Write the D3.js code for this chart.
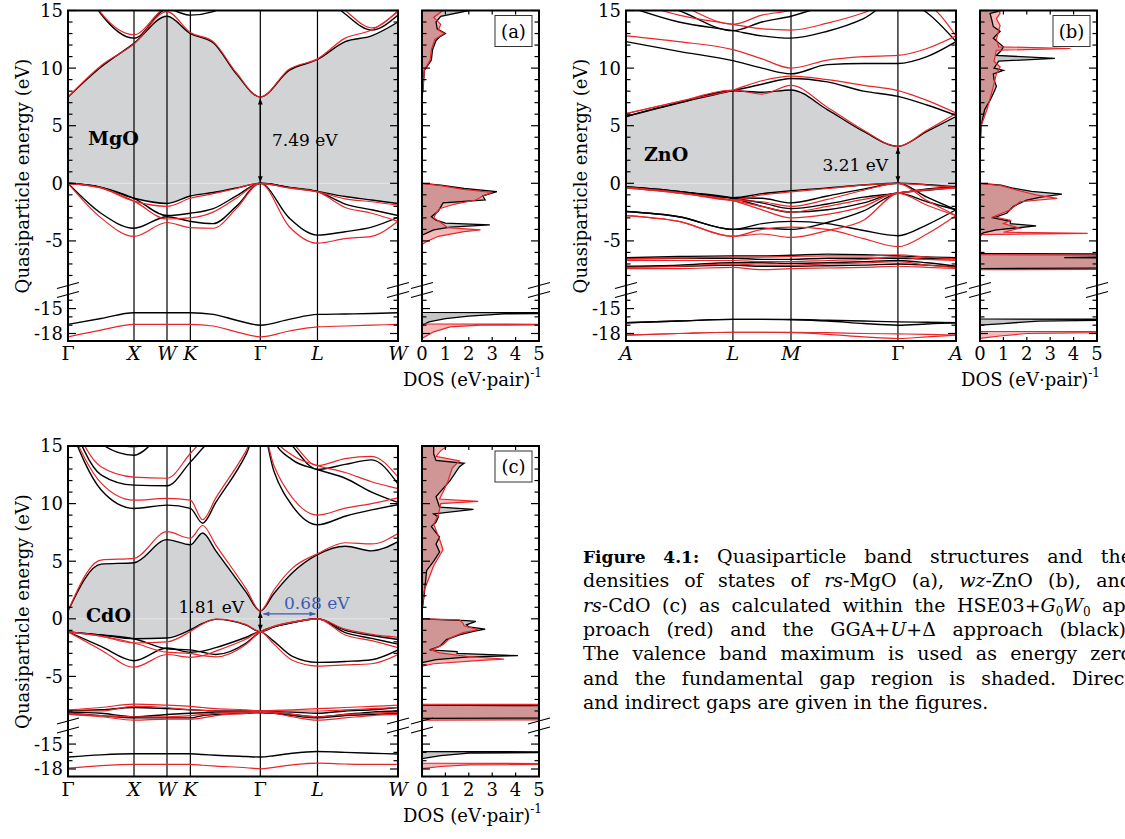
<!DOCTYPE html>
<html>
<head>
<meta charset="utf-8">
<script src="https://cdn.jsdelivr.net/npm/d3@7/dist/d3.min.js"></script>
<style>
  body { margin: 0; background: #fff; }
  svg { display: block; font-family: 'DejaVu Serif', serif; }
</style>
</head>
<body>
<svg id="figure" width="1125" height="839"></svg>
<script>
// ---------- k paths (path length, the frame spans 0..5) ----------
const fccPoints = [0, 1, 1.5, 1.854, 2.914, 3.78, 5];
const fccLabels = ['Γ', 'X', 'W', 'K', 'Γ', 'L', 'W'];
const wzPoints = [0, 1.62, 2.5, 4.12, 5];
const wzLabels = ['A', 'L', 'M', 'Γ', 'A'];

// k samples at which the band energies were read
const mgoK = [0, 0.5, 1, 1.5, 1.854, 2.2, 2.55, 2.914, 3.35, 3.78, 4.2, 4.6, 5];
const znoK = [0, 0.8, 1.62, 2.06, 2.5, 3.05, 3.6, 4.12, 4.56, 5];
const cdoK = [0, 0.5, 1, 1.5, 1.854, 2.04, 2.24, 2.7, 2.914, 3.12, 3.4, 3.78, 4.2, 4.6, 5];

// ---------- MgO bands (eV), black = GGA+U+Delta, red = HSE03+G0W0 ----------
const mgoBlack = [
  [7.49, 10.1, 12.15, 14.5, 13.0, 12.2, 9.5, 7.49, 9.8, 10.75, 12.3, 12.8, 14.0],
  [20, 14.7, 12.6, 15.1, 14.6, 14.9, 17, 20, 20, 17, 14.7, 13.3, 14.6],
  [0, -0.35, -1.3, -1.75, -1.1, -0.8, -0.4, 0, -0.35, -0.7, -1.15, -1.45, -1.75],
  [0, -0.35, -1.3, -2.8, -2.6, -2.2, -1.1, 0, -0.35, -0.7, -1.8, -2.3, -2.8],
  [0, -2.6, -3.9, -2.9, -3.3, -3.5, -2.0, 0, -3.0, -4.5, -4.2, -3.8, -2.95],
  [-16.9, -16.2, -15.5, -15.5, -15.5, -15.7, -16.4, -17.0, -16.3, -15.7, -15.65, -15.6, -15.5]
];
const mgoRed = [
  [7.49, 10.2, 12.1, 14.9, 13.1, 12.3, 9.6, 7.49, 9.9, 10.8, 12.6, 13.3, 14.9],
  [20, 14.8, 12.9, 15.3, 15.5, 16, 18, 20, 20, 17, 15.0, 13.5, 15.0],
  [0, -0.4, -1.55, -2.0, -1.3, -0.9, -0.45, 0, -0.4, -0.75, -1.35, -1.6, -1.9],
  [0, -0.4, -1.55, -3.1, -3.0, -2.5, -1.3, 0, -0.4, -0.75, -2.1, -2.6, -3.3],
  [0, -3.0, -4.6, -3.4, -3.85, -3.9, -2.2, 0, -3.75, -5.2, -4.8, -4.6, -3.3],
  [-18.4, -17.6, -16.9, -16.9, -16.9, -17.1, -17.8, -18.4, -17.7, -17.2, -17.1, -17.0, -16.9]
];

// ---------- ZnO bands ----------
const znoBlack = [
  [5.8, 6.97, 8.04, 7.9, 8.1, 6.4, 4.5, 3.21, 4.5, 5.8],
  [5.8, 7.0, 8.04, 8.6, 9.1, 8.8, 8.0, 7.55, 6.8, 5.9],
  [12.3, 11.45, 10.65, 10.0, 9.5, 10.3, 10.4, 10.4, 11.0, 12.3],
  [15.4, 14.0, 13.25, 12.8, 12.6, 13.2, 14.3, 16, 14.8, 12.3],
  [16.5, 15.0, 13.25, 14.0, 14.5, 15.5, 16.5, 17, 17, 16],
  [-0.3, -0.7, -1.25, -0.9, -0.65, -0.4, -0.15, 0, -0.12, -0.3],
  [-0.3, -0.7, -1.25, -1.3, -1.7, -1.1, -0.5, 0, -1.2, -2.3],
  [-0.35, -0.75, -1.3, -1.7, -2.2, -1.8, -1.2, -0.85, -0.5, -0.3],
  [-0.35, -0.75, -1.3, -2.0, -2.5, -2.3, -1.7, -0.85, -1.6, -2.3],
  [-2.45, -2.9, -4.0, -3.5, -3.3, -3.5, -4.1, -4.55, -3.6, -2.3],
  [-2.45, -2.9, -4.0, -3.9, -4.0, -3.4, -2.4, -0.85, -0.6, -0.35],
  [-6.45, -6.35, -6.3, -6.3, -6.25, -6.15, -6.2, -6.3, -6.4, -6.45],
  [-6.55, -6.5, -6.5, -6.6, -6.6, -6.5, -6.5, -6.5, -6.55, -6.55],
  [-7.2, -7.1, -6.9, -6.9, -6.95, -6.9, -6.8, -6.7, -6.9, -7.2],
  [-7.25, -7.2, -7.1, -7.2, -7.2, -7.15, -7.1, -7.0, -7.1, -7.25],
  [-16.7, -16.5, -16.3, -16.3, -16.3, -16.4, -16.5, -16.6, -16.65, -16.7],
  [-16.7, -16.5, -16.3, -16.3, -16.35, -16.5, -16.8, -17.0, -16.85, -16.7]
];
const znoRed = [
  [6.05, 7.1, 8.1, 7.75, 8.5, 6.6, 4.6, 3.21, 4.6, 6.05],
  [6.05, 7.1, 8.1, 8.9, 9.3, 9.0, 8.5, 8.05, 7.2, 6.1],
  [12.8, 12.3, 11.6, 10.8, 10.0, 10.7, 11.0, 11.1, 11.7, 12.8],
  [16, 14.6, 13.8, 13.4, 13.3, 13.9, 14.8, 16, 15.5, 12.8],
  [17, 15.5, 13.8, 14.6, 15.0, 16, 17, 17, 17, 17],
  [-0.35, -0.8, -1.45, -1.0, -0.75, -0.45, -0.15, 0, -0.15, -0.35],
  [-0.35, -0.8, -1.45, -1.6, -2.0, -1.4, -0.6, 0, -1.5, -2.8],
  [-0.4, -0.85, -1.5, -2.0, -2.5, -2.0, -1.4, -0.85, -0.55, -0.4],
  [-0.4, -0.85, -1.5, -2.3, -3.0, -2.7, -2.0, -0.85, -1.9, -2.8],
  [-2.8, -3.3, -4.6, -4.0, -3.8, -4.0, -4.8, -5.5, -4.4, -2.8],
  [-2.8, -3.3, -4.6, -4.4, -4.7, -4.1, -3.2, -0.85, -0.6, -0.4],
  [-6.55, -6.5, -6.4, -6.4, -6.35, -6.3, -6.3, -6.2, -6.4, -6.55],
  [-6.7, -6.7, -6.7, -6.8, -6.8, -6.7, -6.6, -6.4, -6.6, -6.7],
  [-7.3, -7.2, -7.0, -7.1, -7.1, -7.0, -6.9, -6.8, -7.1, -7.3],
  [-7.4, -7.4, -7.3, -7.5, -7.4, -7.35, -7.3, -7.2, -7.3, -7.4],
  [-18.2, -18.0, -17.85, -17.85, -17.85, -17.9, -18.0, -18.05, -18.1, -18.2],
  [-18.2, -18.0, -17.85, -17.85, -17.9, -18.1, -18.4, -18.6, -18.4, -18.2]
];

// ---------- CdO bands ----------
const cdoBlack = [
  [0.68, 4.75, 4.87, 6.87, 6.43, 7.45, 5.9, 2.3, 0.68, 2.2, 4.0, 5.57, 6.3, 5.9, 6.7],
  [17, 11.2, 9.58, 9.87, 9.58, 8.3, 10.1, 14.3, 17, 12.8, 9.8, 8.16, 8.9, 9.45, 9.9],
  [18, 12.5, 11.6, 11.55, 13.6, 14.8, 16, 18, 19, 15.5, 13.8, 12.96, 12.2, 11.0, 10.1],
  [19, 15.2, 14.2, 16, 16, 17, 18, 19, 19, 17, 15, 12.96, 13.4, 13.8, 11.7],
  [-1.13, -1.4, -1.73, -1.67, -0.95, -0.4, -0.05, -0.55, -1.13, -0.7, -0.32, 0, -1.0, -1.45, -1.8],
  [-1.13, -1.4, -1.73, -2.6, -2.7, -2.9, -3.1, -2.1, -1.13, -0.7, -0.32, 0, -1.2, -1.7, -2.2],
  [-1.13, -2.4, -3.64, -2.54, -2.9, -2.8, -2.5, -1.6, -1.13, -1.96, -3.26, -3.78, -3.7, -3.55, -2.7],
  [-8.0, -7.9, -7.7, -7.8, -7.9, -7.95, -8.0, -8.0, -8.0, -8.05, -8.1, -8.2, -8.0, -7.9, -7.7],
  [-8.1, -8.2, -8.5, -8.3, -8.2, -8.15, -8.1, -8.1, -8.1, -8.15, -8.3, -8.5, -8.3, -8.1, -8.0],
  [-8.2, -8.4, -8.6, -8.6, -8.6, -8.4, -8.3, -8.2, -8.15, -8.2, -8.4, -8.6, -8.4, -8.3, -8.2],
  [-16.56, -16.3, -16.17, -16.17, -16.17, -16.25, -16.35, -16.5, -16.56, -16.4, -16.1, -15.9, -16.0, -16.1, -16.2]
];
const cdoRed = [
  [0.68, 5.1, 5.25, 7.56, 7.0, 8.1, 6.4, 2.6, 0.68, 2.5, 4.4, 5.65, 6.6, 6.5, 7.4],
  [17, 11.8, 10.3, 10.45, 10.3, 8.6, 10.5, 14.6, 17, 13.3, 10.5, 9.0, 9.6, 10.0, 10.5],
  [18, 13.2, 12.3, 12.2, 14.35, 15.5, 16.5, 18, 19, 15.8, 14.2, 13.3, 12.7, 11.9, 11.3],
  [19, 16, 14.9, 16.2, 16.2, 17, 18, 19, 19, 17, 15.3, 13.3, 13.9, 14.1, 12.3],
  [-1.13, -1.5, -2.1, -2.0, -1.1, -0.45, -0.02, -0.5, -1.13, -0.65, -0.28, 0, -0.9, -1.35, -1.6],
  [-1.13, -1.5, -2.1, -2.9, -3.0, -3.2, -3.3, -2.2, -1.13, -0.65, -0.28, 0, -1.4, -1.9, -2.5],
  [-1.13, -2.7, -4.2, -3.1, -3.35, -3.2, -2.8, -1.75, -1.13, -2.2, -3.6, -4.1, -4.0, -3.9, -3.1],
  [-7.9, -7.7, -7.4, -7.5, -7.6, -7.7, -7.8, -7.9, -8.0, -7.95, -7.9, -7.8, -7.7, -7.6, -7.5],
  [-8.0, -8.0, -7.6, -7.7, -7.9, -7.95, -8.0, -8.0, -8.0, -8.0, -8.0, -8.0, -7.9, -7.8, -7.7],
  [-8.2, -8.4, -8.5, -8.5, -8.4, -8.3, -8.2, -8.1, -8.05, -8.1, -8.3, -8.5, -8.3, -8.2, -8.1],
  [-8.3, -8.5, -8.8, -8.7, -8.7, -8.6, -8.4, -8.2, -8.1, -8.2, -8.5, -8.8, -8.6, -8.4, -8.3],
  [-17.9, -17.6, -17.45, -17.45, -17.45, -17.55, -17.65, -17.85, -17.98, -17.8, -17.5, -17.3, -17.4, -17.45, -17.45]
];

// ---------- densities of states: [energy (eV), DOS (eV pair)^-1] ----------
const mgoDosBlack = [[-19, 0], [-17.0, 0], [-16.6, 0.3], [-16.2, 1.0], [-15.9, 2.0], [-15.65, 3.5], [-15.55, 7], [-15.5, 7], [-15.45, 0],
  [-4.5, 0], [-4.05, 0.5], [-3.8, 1.2], [-3.6, 2.9], [-3.45, 1.0], [-3.2, 0.6], [-2.9, 0.4], [-2.4, 0.7], [-1.7, 0.9], [-1.45, 2.7],
  [-1.1, 2.6], [-0.72, 3.2], [-0.45, 1.8], [-0.15, 0.8], [0, 0], [7.49, 0], [8.1, 0.04], [9.8, 0.1], [10.7, 0.4], [11.6, 0.45],
  [12.4, 0.6], [12.7, 0.75], [13.0, 1.0], [13.4, 0.65], [14.0, 0.6], [14.5, 0.8], [15, 2.0]];
const mgoDosRed = [[-19, 0], [-18.6, 0], [-17.8, 0.5], [-17.2, 1.2], [-17.0, 2.5], [-16.95, 7], [-16.9, 7], [-16.85, 0],
  [-5.3, 0], [-5.05, 0.2], [-4.6, 0.7], [-4.2, 1.8], [-4.05, 2.5], [-3.85, 1.1], [-3.4, 0.8], [-3.0, 0.5], [-2.6, 0.6], [-2.2, 0.75],
  [-1.8, 1.4], [-1.45, 2.3], [-1.1, 2.6], [-0.8, 3.0], [-0.5, 1.7], [-0.2, 0.8], [0, 0], [7.49, 0], [8.5, 0.05], [9.8, 0.1],
  [10.7, 0.35], [11.6, 0.4], [12.5, 0.55], [13.0, 0.95], [13.3, 0.7], [13.8, 0.8], [14.4, 0.5], [15, 0.9]];

const znoDosBlack = [[-19, 0], [-17.0, 0], [-16.8, 1.0], [-16.5, 2.5], [-16.35, 7], [-16.3, 7], [-16.25, 0],
  [-7.4, 0], [-7.35, 7], [-6.5, 7], [-6.45, 3.6], [-6.35, 7], [-6.15, 7], [-6.1, 0],
  [-4.5, 0], [-4.3, 0.14], [-4.05, 0.7], [-3.7, 2.4], [-3.5, 1.3], [-3.3, 1.3], [-3.0, 0.57], [-2.6, 1.14], [-2.0, 1.43],
  [-1.45, 2.0], [-1.2, 2.6], [-0.93, 3.5], [-0.7, 2.2], [-0.43, 1.43], [-0.15, 0.9], [0, 0], [3.21, 0], [5.0, 0.05], [6.4, 0.2],
  [7.2, 0.43], [7.8, 0.57], [8.4, 0.7], [9.0, 0.6], [9.5, 0.57], [9.8, 1.0], [10.0, 0.6], [10.6, 0.8], [10.85, 3.2], [11.1, 0.7],
  [11.5, 0.9], [11.85, 1.0], [12.6, 0.57], [13.2, 0.86], [13.6, 0.57], [14.2, 0.5], [14.75, 0.43], [15, 0.9]];
const znoDosRed = [[-19, 0], [-18.6, 0], [-18.3, 0.85], [-18.0, 2.0], [-17.85, 7], [-17.8, 7], [-17.75, 0],
  [-7.5, 0], [-7.45, 7], [-6.25, 7], [-6.2, 0],
  [-4.6, 0], [-4.45, 0.1], [-4.35, 4.6], [-4.25, 1.0], [-3.9, 1.7], [-3.5, 1.0], [-3.2, 1.3], [-2.9, 0.57], [-2.3, 1.3],
  [-1.6, 1.7], [-1.3, 3.3], [-1.0, 2.4], [-0.6, 1.6], [-0.2, 0.9], [0, 0], [3.21, 0], [5.0, 0.05], [6.4, 0.3], [8.4, 0.57],
  [9.5, 0.7], [10.1, 0.86], [10.6, 0.6], [11.55, 0.7], [11.7, 3.86], [11.85, 0.8], [12.5, 0.7], [13.7, 0.86], [14.3, 0.7],
  [14.75, 0.86], [15, 0.8]];

const cdoDosBlack = [[-19, 0], [-16.75, 0], [-16.4, 0.8], [-16.1, 2.0], [-16.0, 7], [-15.95, 7], [-15.9, 0],
  [-8.65, 0], [-8.6, 7], [-7.55, 7], [-7.5, 0],
  [-3.8, 0], [-3.55, 0.6], [-3.3, 2.0], [-3.2, 4.1], [-3.0, 1.5], [-2.85, 1.5], [-2.7, 0.33], [-2.4, 0.75], [-1.8, 1.05],
  [-1.4, 1.6], [-1.1, 2.2], [-0.9, 2.7], [-0.7, 2.0], [-0.52, 1.9], [-0.23, 2.3], [-0.15, 1.9], [0, 0], [0.68, 0], [2.2, 0.1],
  [4.2, 0.2], [5.0, 0.5], [5.8, 0.75], [6.5, 0.6], [7.1, 0.75], [8.0, 0.4], [8.4, 0.6], [8.85, 0.7], [9.1, 0.5], [9.5, 2.2],
  [9.7, 0.75], [10.6, 0.6], [11.3, 0.9], [12.0, 1.2], [13.2, 1.6], [13.5, 1.8], [13.75, 0.6], [14.3, 0.5], [15, 0.5]];
const cdoDosRed = [[-19, 0], [-17.95, 0], [-17.7, 0.8], [-17.5, 2.0], [-17.4, 7], [-17.35, 7], [-17.3, 0],
  [-8.8, 0], [-8.75, 7], [-7.45, 7], [-7.4, 0],
  [-4.1, 0], [-3.9, 0.5], [-3.6, 2.5], [-3.5, 3.5], [-3.25, 1.9], [-2.95, 0.75], [-2.7, 0.4], [-2.25, 0.9], [-1.67, 1.2],
  [-1.2, 1.75], [-0.95, 2.4], [-0.6, 1.8], [-0.37, 1.75], [-0.1, 1.6], [0, 0], [0.68, 0], [2.5, 0.1], [4.6, 0.5], [6.0, 0.9],
  [6.9, 0.75], [7.7, 0.6], [8.2, 0.5], [9.0, 0.7], [10.0, 0.8], [10.2, 2.4], [10.4, 0.75], [11.0, 0.9], [11.9, 1.1],
  [13.1, 1.3], [13.7, 1.6], [14.1, 0.6], [14.6, 0.8], [15, 1.1]];

// ---------- axis ticks ----------
const majorE = [15, 10, 5, 0, -5, -15, -18];
const majorLabels = ['15', '10', '5', '0', '-5', '-15', '-18'];
const minorE = [14, 13, 12, 11, 9, 8, 7, 6, 4, 3, 2, 1, -1, -2, -3, -4, -6, -7, -8, -14, -16, -17];
const dosTicks = [0, 1, 2, 3, 4, 5];

// ---------- caption (style, text) ----------
const captionLines = [
  [['b', 'Figure 4.1:'], ['n', ' Quasiparticle band structures and the']],
  [['n', 'densities of states of '], ['i', 'rs'], ['n', '-MgO (a), '], ['i', 'wz'], ['n', '-ZnO (b), and']],
  [['i', 'rs'], ['n', '-CdO (c) as calculated within the HSE03+'], ['i', 'G'], ['s', '0'], ['i', 'W'], ['s', '0'], ['n', ' ap-']],
  [['n', 'proach (red) and the GGA+'], ['i', 'U'], ['n', '+Δ approach (black).']],
  [['n', 'The valence band maximum is used as energy zero']],
  [['n', 'and the fundamental gap region is shaded. Direct']],
  [['n', 'and indirect gaps are given in the figures.']]
];

// ================= drawing =================
const svg = d3.select('#figure');
const defs = svg.append('defs');

const bandX0 = 68, bandX1 = 398, dosX0 = 422, dosX1 = 539;
const frameTop = 10.5, frameBot = 341;
const breakY = 290;
const red = '#e8262a', gapGray = '#d2d3d5';

// broken energy axis: the lower part (O 2s) is compressed
const yE = d3.scaleLinear().domain([-19, -12.8, -9.2, 15]).range([341.8, 290.3, 289.3, 10.5]);
const xk = d3.scaleLinear().domain([0, 5]).range([bandX0, bandX1]);
const xDos = d3.scaleLinear().domain([0, 5]).range([dosX0, dosX1]);

defs.append('clipPath').attr('id', 'clip-band').append('rect')
    .attr('x', bandX0).attr('y', frameTop).attr('width', bandX1 - bandX0).attr('height', frameBot - frameTop);
defs.append('clipPath').attr('id', 'clip-dos').append('rect')
    .attr('x', dosX0).attr('y', frameTop).attr('width', dosX1 - dosX0).attr('height', frameBot - frameTop);

[['arrow-k', '#000'], ['arrow-b', '#3d5db5']].forEach(function(m) {
    defs.append('marker')
        .attr('id', m[0])
        .attr('viewBox', '0 0 10 10')
        .attr('refX', 10).attr('refY', 5)
        .attr('markerWidth', 7).attr('markerHeight', 6)
        .attr('markerUnits', 'userSpaceOnUse')
        .attr('orient', 'auto-start-reverse')
        .append('path').attr('d', 'M0,1L10,5L0,9z').attr('fill', m[1]);
});

const panels = [
    { dx: 0, dy: 0, points: fccPoints, labels: fccLabels, ks: mgoK, black: mgoBlack, red: mgoRed, vb: 2, cb: 0,
      dosB: mgoDosBlack, dosR: mgoDosRed, tag: '(a)' },
    { dx: 558, dy: 0, points: wzPoints, labels: wzLabels, ks: znoK, black: znoBlack, red: znoRed, vb: 5, cb: 0,
      dosB: znoDosBlack, dosR: znoDosRed, tag: '(b)' },
    { dx: 0, dy: 435.5, points: fccPoints, labels: fccLabels, ks: cdoK, black: cdoBlack, red: cdoRed, vb: 4, cb: 0,
      dosB: cdoDosBlack, dosR: cdoDosRed, tag: '(c)' }
];

const groups = panels.map(drawPanel);
annotate();
drawCaption();

/**
 * Draw one band structure + DOS pair
 */
function drawPanel(p) {
    let g = svg.append('g').attr('transform', 'translate(' + p.dx + ',' + p.dy + ')');

    // ---- band structure ----
    let band = g.append('g').attr('clip-path', 'url(#clip-band)');

    let gapArea = d3.area()
        .x(function(d, i) { return xk(p.ks[i]); })
        .y0(function(d) { return yE(d[0]); })
        .y1(function(d) { return yE(d[1]); })
        .curve(d3.curveMonotoneX);

    band.append('path')
        .datum(d3.zip(p.black[p.vb], p.black[p.cb]))
        .attr('d', gapArea)
        .attr('fill', gapGray);

    // faint energy zero line
    band.append('line')
        .attr('x1', bandX0).attr('x2', bandX1)
        .attr('y1', yE(0)).attr('y2', yE(0))
        .attr('stroke', '#ececec').attr('stroke-width', 0.8);

    band.selectAll(null)
        .data(p.points.slice(1, -1))
        .join('line')
        .attr('x1', function(d) { return xk(d); })
        .attr('x2', function(d) { return xk(d); })
        .attr('y1', frameTop).attr('y2', frameBot)
        .attr('stroke', '#000').attr('stroke-width', 1.2);

    let bandLine = d3.line()
        .x(function(d, i) { return xk(p.ks[i]); })
        .y(function(d) { return yE(d); })
        .curve(d3.curveMonotoneX);

    band.selectAll(null).data(p.black).join('path')
        .attr('d', bandLine)
        .attr('fill', 'none').attr('stroke', '#000').attr('stroke-width', 1.4);

    band.selectAll(null).data(p.red).join('path')
        .attr('d', bandLine)
        .attr('fill', 'none').attr('stroke', red).attr('stroke-width', 1.2);

    // ---- density of states ----
    let dos = g.append('g').attr('clip-path', 'url(#clip-dos)');

    let dosArea = d3.area()
        .y(function(d) { return yE(d[0]); })
        .x0(xDos(0))
        .x1(function(d) { return xDos(d[1]); });
    let dosLine = d3.line()
        .y(function(d) { return yE(d[0]); })
        .x(function(d) { return xDos(d[1]); });

    dos.append('path').datum(p.dosB).attr('d', dosArea).attr('fill', '#c6c6c6');
    dos.append('path').datum(p.dosR).attr('d', dosArea).attr('fill', 'rgba(225,70,70,0.38)');
    dos.append('path').datum(p.dosB).attr('d', dosLine)
        .attr('fill', 'none').attr('stroke', '#000').attr('stroke-width', 1.3);
    dos.append('path').datum(p.dosR).attr('d', dosLine)
        .attr('fill', 'none').attr('stroke', red).attr('stroke-width', 1.2);

    // ---- frames and ticks ----
    [[bandX0, bandX1], [dosX0, dosX1]].forEach(function(f) {
        g.append('rect')
            .attr('x', f[0]).attr('y', frameTop)
            .attr('width', f[1] - f[0]).attr('height', frameBot - frameTop)
            .attr('fill', 'none').attr('stroke', '#000').attr('stroke-width', 2);
        drawYTicks(g, f[0], f[1]);
        drawBreak(g, f[0]);
        drawBreak(g, f[1]);
    });

    // energy tick labels
    g.selectAll(null).data(majorE).join('text')
        .attr('x', bandX0 - 5)
        .attr('y', function(d) { return yE(d); })
        .attr('dy', '0.36em')
        .attr('text-anchor', 'end')
        .attr('font-size', 18)
        .text(function(d, i) { return majorLabels[i]; });

    // k-point labels
    g.selectAll(null).data(p.points).join('text')
        .attr('x', function(d) { return xk(d); })
        .attr('y', 360)
        .attr('text-anchor', 'middle')
        .attr('font-size', 19)
        .attr('font-style', function(d, i) { return p.labels[i] === 'Γ' ? 'normal' : 'italic'; })
        .text(function(d, i) { return p.labels[i]; });

    // DOS x ticks
    dosTicks.forEach(function(t) {
        g.append('line').attr('x1', xDos(t)).attr('x2', xDos(t))
            .attr('y1', frameTop).attr('y2', frameTop + 4)
            .attr('stroke', '#000').attr('stroke-width', 1.2);
        g.append('line').attr('x1', xDos(t)).attr('x2', xDos(t))
            .attr('y1', frameBot).attr('y2', frameBot - 4)
            .attr('stroke', '#000').attr('stroke-width', 1.2);
    });
    g.selectAll(null).data(dosTicks).join('text')
        .attr('x', function(d) { return xDos(d); })
        .attr('y', 360)
        .attr('text-anchor', 'middle')
        .attr('font-size', 18)
        .text(function(d) { return d; });

    let dl = g.append('text').attr('x', 403).attr('y', 386).attr('font-size', 18);
    dl.append('tspan').text('DOS (eV·pair)');
    dl.append('tspan').attr('dy', -9).attr('font-size', 12).text('-1');

    // y axis title
    g.append('text')
        .attr('transform', 'translate(29,176) rotate(-90)')
        .attr('text-anchor', 'middle')
        .attr('font-size', 18)
        .text('Quasiparticle energy (eV)');

    // panel tag
    g.append('rect').attr('x', 495).attr('y', 15.5).attr('width', 37).attr('height', 31)
        .attr('fill', '#fff').attr('stroke', '#333').attr('stroke-width', 1);
    g.append('text').attr('x', 513.5).attr('y', 37.5)
        .attr('text-anchor', 'middle').attr('font-size', 18).text(p.tag);

    return g;
}

/**
 * Inward ticks on both sides of a frame
 */
function drawYTicks(g, xl, xr) {
    [[majorE, 8], [minorE, 4.5]].forEach(function(set) {
        set[0].forEach(function(e) {
            let yy = yE(e);
            g.append('line').attr('x1', xl).attr('x2', xl + set[1]).attr('y1', yy).attr('y2', yy)
                .attr('stroke', '#000').attr('stroke-width', 1.2);
            g.append('line').attr('x1', xr).attr('x2', xr - set[1]).attr('y1', yy).attr('y2', yy)
                .attr('stroke', '#000').attr('stroke-width', 1.2);
        });
    });
}

/**
 * Axis break mark (two slanted strokes)
 */
function drawBreak(g, x) {
    [-4.5, 4.5].forEach(function(o) {
        g.append('line')
            .attr('x1', x - 11).attr('y1', breakY + o + 3)
            .attr('x2', x + 11).attr('y2', breakY + o - 3)
            .attr('stroke', '#000').attr('stroke-width', 1.2);
    });
}

/**
 * Material names, gap arrows and values
 */
function annotate() {
    let ga = groups[0], gb = groups[1], gc = groups[2];

    function label(g, x, y, txt, opts) {
        return g.append('text').attr('x', x).attr('y', y)
            .attr('font-size', opts.size || 17)
            .attr('font-weight', opts.bold ? 'bold' : 'normal')
            .attr('text-anchor', opts.anchor || 'start')
            .attr('fill', opts.color || '#000')
            .text(txt);
    }
    function arrow(g, x1, y1, x2, y2, id, color) {
        g.append('line').attr('x1', x1).attr('y1', y1).attr('x2', x2).attr('y2', y2)
            .attr('stroke', color).attr('stroke-width', 1.3)
            .attr('marker-start', 'url(#' + id + ')')
            .attr('marker-end', 'url(#' + id + ')');
    }

    // MgO
    label(ga, 88, 145, 'MgO', { bold: true, size: 19 });
    arrow(ga, xk(2.914), yE(7.49) + 1.5, xk(2.914), yE(0) - 1, 'arrow-k', '#000');
    label(ga, 272, 146, '7.49 eV', {});

    // ZnO
    label(gb, 86, 161, 'ZnO', { bold: true, size: 19 });
    arrow(gb, xk(4.12), yE(3.21) + 1.5, xk(4.12), yE(0) - 1, 'arrow-k', '#000');
    label(gb, 330, 171, '3.21 eV', { anchor: 'end' });

    // CdO
    label(gc, 86, 186, 'CdO', { bold: true, size: 19 });
    arrow(gc, xk(2.914), yE(0.68) + 1, xk(2.914), yE(-1.13) - 1, 'arrow-k', '#000');
    label(gc, 244, 177, '1.81 eV', { anchor: 'end' });
    arrow(gc, xk(2.914) + 3, yE(0.42), xk(3.78) - 2, yE(0.42), 'arrow-b', '#3d5db5');
    label(gc, 284, 173, '0.68 eV', { color: '#3d5db5' });
}

/**
 * Justified caption to the right of panel (c)
 */
function drawCaption() {
    let x0 = 583, base = 563, lh = 24.35, width = 549;

    captionLines.forEach(function(segs, li) {
        let t = svg.append('text')
            .attr('x', x0).attr('y', base + li * lh)
            .attr('font-size', 19)
            .attr('xml:space', 'preserve')
            .style('white-space', 'pre');
        let shifted = false;
        segs.forEach(function(s) {
            let ts = t.append('tspan').text(s[1]);
            if (s[0] === 'b') ts.attr('font-weight', 'bold').attr('font-size', 17);
            if (s[0] === 'i') ts.attr('font-style', 'italic');
            if (s[0] === 's') {
                ts.attr('font-size', 12).attr('dy', 4);
                shifted = true;
            } else if (shifted) {
                ts.attr('dy', -4);
                shifted = false;
            }
        });
        if (li < captionLines.length - 1) {
            let natural = t.node().getComputedTextLength();
            let spaces = segs.map(function(s) { return s[1]; }).join('').split(' ').length - 1;
            t.attr('word-spacing', ((width - natural) / spaces).toFixed(2));
        }
    });
}
</script>
</body>
</html>
